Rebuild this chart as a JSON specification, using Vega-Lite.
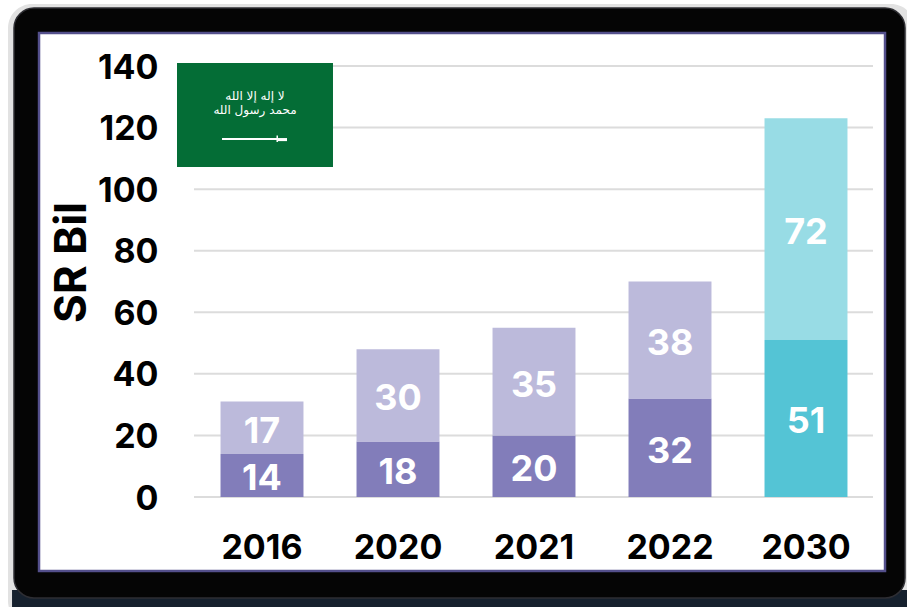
{
"$schema":"https://vega.github.io/schema/vega-lite/v6.json",
"width":680,"height":431,
"autosize":{"type":"none"},
"padding":{"left":194,"top":66,"right":33,"bottom":110},
"background":"#ffffff",
"config":{"view":{"stroke":null},"font":"Inter"},
"datasets":{
 "bars":[
  {"year":"2016","series":"Base","seg":1,"value":14},{"year":"2016","series":"Added","seg":2,"value":17},
  {"year":"2020","series":"Base","seg":1,"value":18},{"year":"2020","series":"Added","seg":2,"value":30},
  {"year":"2021","series":"Base","seg":1,"value":20},{"year":"2021","series":"Added","seg":2,"value":35},
  {"year":"2022","series":"Base","seg":1,"value":32},{"year":"2022","series":"Added","seg":2,"value":38},
  {"year":"2030","series":"Base 2030","seg":1,"value":51},{"year":"2030","series":"Added 2030","seg":2,"value":72}
 ],
 "ticks":[{"t":0},{"t":20},{"t":40},{"t":60},{"t":80},{"t":100},{"t":120},{"t":140}],
 "one":[{"n":1}]
},
"resolve":{"scale":{"x":"independent"},"axis":{"y":"independent"}},
"layer":[
 {"data":{"name":"one"},"mark":{"type":"rect","fill":"#e2e2e2","cornerRadius":24,"clip":false},
  "encoding":{"x":{"datum":-0.2735,"type":"quantitative","scale":{"domain":[0,1]},"axis":null},"x2":{"datum":1.0603},"y":{"datum":160.1,"type":"quantitative","axis":null},"y2":{"datum":-41.6}}},
 {"data":{"name":"one"},"mark":{"type":"rect","fill":"#16212e"},
  "encoding":{"x":{"datum":-0.2676,"type":"quantitative","scale":{"domain":[0,1]},"axis":null},"x2":{"datum":1.0603},"y":{"datum":-30.2,"type":"quantitative","axis":null},"y2":{"datum":-41.6}}},
 {"data":{"name":"one"},"mark":{"type":"rect","fill":"#050505","stroke":"#2e2e33","strokeWidth":1.5,"cornerRadius":20},
  "encoding":{"x":{"datum":-0.2647,"type":"quantitative","scale":{"domain":[0,1]},"axis":null},"x2":{"datum":1.0456},"y":{"datum":158.8,"type":"quantitative","axis":null},"y2":{"datum":-32.8}}},
 {"data":{"name":"one"},"mark":{"type":"rect","fill":"#ffffff","stroke":"#54508c","strokeWidth":2.5},
  "encoding":{"x":{"datum":-0.2279,"type":"quantitative","scale":{"domain":[0,1]},"axis":null},"x2":{"datum":1.0162},"y":{"datum":150.7,"type":"quantitative","axis":null},"y2":{"datum":-24}}},
 {"data":{"name":"ticks"},"mark":{"type":"rule","color":"#dcdcdc","strokeWidth":2},
  "encoding":{"x":{"datum":0,"type":"quantitative","scale":{"domain":[0,1]},"axis":null},"x2":{"datum":0.9985},"y":{"field":"t","type":"quantitative","axis":null}}},
 {"data":{"name":"one"},"mark":{"type":"rect","fill":"#046d36"},
  "encoding":{"x":{"datum":-0.025,"type":"quantitative","scale":{"domain":[0,1]},"axis":null},"x2":{"datum":0.2044},"y":{"datum":141,"type":"quantitative","axis":null},"y2":{"datum":107.2}}},
 {"data":{"name":"one"},"mark":{"type":"text","text":["لا إله إلا الله","محمد رسول الله"],"lineHeight":14,"color":"#ffffff","font":"DejaVu Sans","fontSize":12,"align":"center","baseline":"middle"},
  "encoding":{"x":{"datum":0.0897,"type":"quantitative","scale":{"domain":[0,1]},"axis":null},"y":{"datum":130.4,"type":"quantitative","axis":null}}},
 {"data":{"name":"one"},"mark":{"type":"rect","fill":"#ffffff"},
  "encoding":{"x":{"datum":0.0412,"type":"quantitative","scale":{"domain":[0,1]},"axis":null},"x2":{"datum":0.1221},"y":{"datum":116.6,"type":"quantitative","axis":null},"y2":{"datum":116}}},
 {"data":{"name":"one"},"mark":{"type":"rect","fill":"#ffffff"},
  "encoding":{"x":{"datum":0.1213,"type":"quantitative","scale":{"domain":[0,1]},"axis":null},"x2":{"datum":0.1235},"y":{"datum":117.4,"type":"quantitative","axis":null},"y2":{"datum":115.3}}},
 {"data":{"name":"one"},"mark":{"type":"rect","fill":"#ffffff"},
  "encoding":{"x":{"datum":0.1235,"type":"quantitative","scale":{"domain":[0,1]},"axis":null},"x2":{"datum":0.1368},"y":{"datum":116.6,"type":"quantitative","axis":null},"y2":{"datum":115.6}}},
 {"data":{"name":"bars"},
  "transform":[{"stack":"value","groupby":["year"],"sort":[{"field":"seg","order":"ascending"}],"as":["y0","y1"]}],
  "mark":{"type":"bar"},
  "encoding":{
   "x":{"field":"year","type":"nominal","scale":{"paddingInner":0.39,"paddingOuter":0.195},
     "axis":{"title":null,"domain":false,"ticks":false,"grid":false,"labelAngle":0,"labelFontSize":34,"labelFontWeight":700,"labelColor":"#000000","labelPadding":34,"zindex":1}},
   "y":{"field":"y0","type":"quantitative","scale":{"domain":[0,140],"nice":false,"zero":false},
     "axis":{"title":"SR Bil","titleFontSize":44,"titleFontWeight":700,"titleColor":"#000000","titleX":-100,"titleY":196,"values":[0,20,40,60,80,100,120,140],"domain":false,"ticks":false,"grid":false,"labelFontSize":34,"labelFontWeight":700,"labelColor":"#000000","labelPadding":36,"labelOffset":2,"zindex":1}},
   "y2":{"field":"y1"},
   "color":{"field":"series","type":"nominal","legend":null,"scale":{"domain":["Base","Added","Base 2030","Added 2030"],"range":["#827dba","#bcbadb","#54c4d5","#98dce5"]}}
  }},
 {"data":{"name":"bars"},
  "transform":[{"stack":"value","groupby":["year"],"sort":[{"field":"seg","order":"ascending"}],"as":["y0","y1"]},{"calculate":"(datum.y0+datum.y1)/2","as":"mid"}],
  "mark":{"type":"text","color":"#ffffff","fontSize":36,"fontWeight":700,"align":"center","baseline":"middle","dy":4},
  "encoding":{
   "x":{"field":"year","type":"nominal","scale":{"paddingInner":0.39,"paddingOuter":0.195},"axis":null},
   "y":{"field":"mid","type":"quantitative","axis":null},
   "text":{"field":"value","type":"quantitative"}
  }}
]
}
